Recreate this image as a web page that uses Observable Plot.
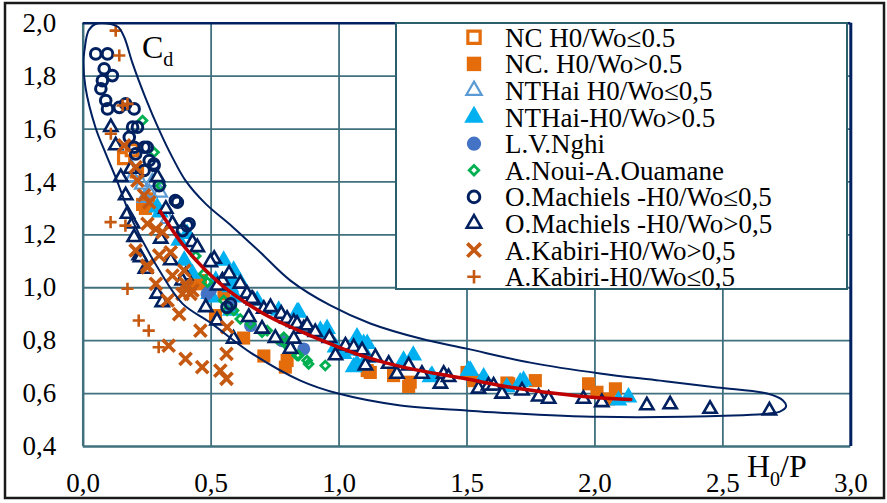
<!DOCTYPE html>
<html><head><meta charset="utf-8">
<script src="https://cdn.jsdelivr.net/npm/d3@7"></script>
<script src="https://cdn.jsdelivr.net/npm/@observablehq/plot@0.6"></script>
<style>
body{margin:0;background:#fff;}
#wrap{position:relative;width:887px;height:503px;overflow:hidden;background:#fff;}
#wrap svg{position:absolute;left:0;top:0;}
</style></head><body><div id="wrap"></div>
<script>
// ---- axis ticks ----
const xTicks = [0, 0.5, 1.0, 1.5, 2.0, 2.5, 3.0];
const yTicks = [0.4, 0.6, 0.8, 1.0, 1.2, 1.4, 1.6, 1.8, 2.0];

// ---- legend labels ----
const seriesNames = [
  "NC H0/Wo≤0.5", "NC. H0/Wo>0.5", "NTHai H0/Wo≤0,5", "NTHai-H0/Wo>0.5", "L.V.Nghi",
  "A.Noui-A.Ouamane", "O.Machiels -H0/Wo≤0,5", "O.Machiels -H0/Wo>0,5",
  "A.Kabiri-H0/Wo>0,5", "A.Kabiri-H0/Wo≤0,5"
];

// ---- series values [H0/P, Cd] ----
const ncOpen = [[0.16,1.49],[0.21,1.44],[0.19,1.52]];
const ncFilled = [[0.243,1.30],[0.232,1.315],[0.256,1.336],[0.427,1.027],[0.445,1.015],[0.458,1.027],[0.517,0.895],
  [0.55,0.977],[0.627,0.81],[0.706,0.742],[0.79,0.70],[0.797,0.725],[1.11,0.687],[1.122,0.68],[1.213,0.668],
  [1.272,0.627],[1.278,0.643],[1.5,0.68],[1.526,0.649],[1.656,0.64],[1.663,0.637],[1.767,0.649],[1.975,0.637],
  [2.008,0.605],[2.053,0.58],[2.08,0.618]];
const ntOpen = [[0.19,1.45],[0.193,1.418],[0.23,1.39],[0.24,1.34],[0.258,1.36],[0.27,1.40],[0.30,1.36],[0.33,1.26]];
const ntFilled = [[0.289,1.304],[0.30,1.285],[0.375,1.178],[0.406,1.204],[0.395,1.103],[0.427,1.053],[0.492,0.977],
  [0.504,0.964],[0.518,1.027],[0.549,1.103],[0.557,1.027],[0.577,0.914],[0.575,1.002],[0.588,1.065],[0.588,1.015],
  [0.595,0.964],[0.614,1.021],[0.68,0.952],[0.764,0.914],[0.836,0.907],[0.842,0.907],[0.927,0.838],[0.953,0.845],
  [0.953,0.826],[0.986,0.775],[1.018,0.75],[1.07,0.813],[1.07,0.763],[1.057,0.70],[1.07,0.712],[1.096,0.788],
  [1.11,0.737],[1.11,0.788],[1.252,0.725],[1.29,0.744],[1.357,0.662],[1.363,0.668],[1.506,0.687],[1.513,0.687],
  [1.565,0.662],[1.656,0.624],[1.708,0.643],[1.721,0.649],[2.092,0.574],[2.131,0.586]];
const lvNghi = [[0.484,0.977],[0.497,0.99],[0.576,0.933],[0.654,0.857],[0.777,0.80],[0.862,0.769]];
const aNoui = [[0.232,1.632],[0.277,1.512],[0.303,1.386],[0.44,1.12],[0.471,1.053],[0.486,1.021],[0.549,0.952],
  [0.5625,0.914],[0.588,0.914],[0.614,0.882],[0.654,0.863],[0.699,0.832],[0.719,0.838],[0.758,0.807],[0.784,0.813],
  [0.79,0.788],[0.803,0.781],[0.836,0.744],[0.842,0.744],[0.875,0.725],[0.881,0.712],[0.946,0.706]];
const machCirc = [[0.049,1.884],[0.095,1.884],[0.082,1.828],[0.114,1.802],[0.075,1.783],[0.069,1.752],[0.088,1.708],
  [0.095,1.676],[0.141,1.682],[0.166,1.695],[0.199,1.676],[0.193,1.607],[0.212,1.607],[0.18,1.569],[0.199,1.531],
  [0.238,1.531],[0.205,1.506],[0.258,1.481],[0.277,1.462],[0.238,1.443],[0.25,1.531],[0.276,1.468],[0.297,1.386],
  [0.36,1.33],[0.368,1.323],[0.414,1.242],[0.388,1.216],[0.406,1.235],[0.562,0.926],[0.576,0.939]];
const machTri = [[0.108,1.607],[0.127,1.538],[0.186,1.449],[0.147,1.418],[0.166,1.349],[0.173,1.279],[0.193,1.242],
  [0.199,1.191],[0.219,1.122],[0.224,1.115],[0.243,1.071],[0.289,0.977],[0.309,0.945],[0.303,1.185],[0.323,1.298],
  [0.349,1.242],[0.342,1.103],[0.29,1.418],[0.40,1.046],[0.387,1.027],[0.427,1.172],[0.446,1.153],[0.512,1.109],
  [0.479,0.926],[0.523,0.876],[0.544,1.027],[0.57,1.053],[0.525,1.008],[0.497,1.096],[0.588,0.807],[0.614,1.015],
  [0.64,0.977],[0.666,0.952],[0.647,0.889],[0.66,0.958],[0.699,0.845],[0.706,0.92],[0.732,0.926],[0.751,0.81],
  [0.774,0.901],[0.797,0.882],[0.81,0.769],[0.823,0.807],[0.823,0.87],[0.836,0.863],[0.862,0.845],[0.875,0.857],
  [0.907,0.832],[0.962,0.81],[0.986,0.744],[1.025,0.781],[1.057,0.775],[1.09,0.763],[1.103,0.706],[1.142,0.737],
  [1.194,0.712],[1.226,0.674],[1.272,0.706],[1.324,0.674],[1.396,0.637],[1.409,0.674],[1.428,0.662],[1.545,0.618],
  [1.584,0.63],[1.604,0.63],[1.637,0.599],[1.715,0.611],[1.78,0.588],[1.819,0.58],[1.955,0.58],[2.027,0.567],
  [2.203,0.555],[2.294,0.559],[2.45,0.542],[2.682,0.536]];
const kabX = [[0.16,1.538],[0.205,1.456],[0.212,1.405],[0.238,1.349],[0.258,1.323],[0.251,1.242],[0.284,1.222],
  [0.31,1.21],[0.205,1.141],[0.251,1.077],[0.297,1.122],[0.342,1.134],[0.349,1.046],[0.395,1.065],[0.284,1.015],
  [0.40,1.015],[0.388,0.977],[0.427,0.99],[0.33,0.952],[0.375,0.90],[0.458,0.838],[0.334,0.781],[0.40,0.731],
  [0.465,0.70],[0.536,0.687],[0.56,0.656],[0.56,0.75],[0.5625,0.851],[0.25,1.084],[0.406,1.002],[0.419,0.977]];
const kabPlus = [[0.127,1.972],[0.141,1.878],[0.154,1.689],[0.173,1.695],[0.108,1.582],[0.107,1.248],[0.165,1.235],
  [0.173,0.996],[0.217,0.876],[0.256,0.838],[0.295,0.775]];

// ---- fitted curve and envelope ----
const fitCurve = [[0.30,1.29],[0.40,1.15],[0.536,1.015],[0.70,0.905],[0.85,0.835],[1.0,0.775],[1.1,0.74],
  [1.25,0.70],[1.5,0.655],[1.67,0.624],[1.85,0.60],[2.0,0.585],[2.14,0.578]];
const envelope = [[0.005,1.897],[0.021,1.972],[0.048,1.997],[0.107,1.997],[0.138,1.985],[0.161,1.946],
  [0.193,1.848],[0.243,1.719],[0.298,1.594],[0.349,1.492],[0.40,1.405],[0.478,1.318],[0.583,1.231],
  [0.693,1.133],[0.81,1.027],[0.966,0.933],[1.122,0.865],[1.318,0.808],[1.498,0.770],[1.748,0.717],
  [2.02,0.676],[2.255,0.649],[2.478,0.623],[2.673,0.600],[2.735,0.574],[2.747,0.551],[2.723,0.532],
  [2.673,0.524],[2.54,0.517],[2.02,0.512],[1.63,0.528],[1.498,0.536],[1.24,0.555],[0.997,0.60],
  [0.849,0.649],[0.654,0.755],[0.497,0.868],[0.388,0.94],[0.298,1.065],[0.193,1.253],[0.127,1.417],
  [0.088,1.507],[0.048,1.606],[0.009,1.757],[0.001,1.859]];

// ---- styles ----
const navy = "#002060", grid = "#40707e", orange = "#E46C0A", kab = "#C65911";
const styles = [
  {symbol:"square", r:6.3, fill:"white", stroke:orange, strokeWidth:3.2},
  {symbol:"square", r:7.4, fill:orange, stroke:"none", strokeWidth:0},
  {symbol:"triangle", r:5.2, fill:"none", stroke:"#5B9BD5", strokeWidth:2.2},
  {symbol:"triangle", r:6.6, fill:"#00B0F0", stroke:"none", strokeWidth:0},
  {symbol:"circle", r:6.5, fill:"#4472C4", stroke:"none", strokeWidth:0},
  {symbol:"diamond2", r:3.9, fill:"none", stroke:"#00B050", strokeWidth:2.8},
  {symbol:"circle", r:5.3, fill:"none", stroke:navy, strokeWidth:3},
  {symbol:"triangle", r:4.9, fill:"white", stroke:navy, strokeWidth:2.6},
  {symbol:"times", r:5.6, fill:"none", stroke:kab, strokeWidth:3.6},
  {symbol:"plus", r:4, fill:"none", stroke:kab, strokeWidth:2.6}
];
const seriesData = [ncOpen, ncFilled, ntOpen, ntFilled, lvNghi, aNoui, machCirc, machTri, kabX, kabPlus];

const fmt = d => d3.format(".1f")(d).replace(".", ",");
const toObj = a => a.map(([x, y]) => ({x, y}));

const dotMarks = seriesData.map((arr, i) => Plot.dot(toObj(arr), {x:"x", y:"y", ...styles[i]}));

const plot = Plot.plot({
  width: 887, height: 503,
  marginLeft: 82.7, marginRight: 36.7, marginTop: 22.7, marginBottom: 57,
  style: {fontFamily: "'Liberation Serif','Times New Roman',serif", fontSize: "27px", color: "#000", background: "transparent"},
  x: {domain: [0, 3], ticks: xTicks, tickFormat: fmt, tickSize: 0, tickPadding: 26, label: null},
  y: {domain: [0.4, 2.0], ticks: yTicks, tickFormat: fmt, tickSize: 0, tickPadding: 27, label: null},
  marks: [
    Plot.ruleX(xTicks.slice(1, -1), {stroke: grid, strokeWidth: 1.8}),
    Plot.ruleY(yTicks.slice(1, -1), {stroke: grid, strokeWidth: 1.8}),
    Plot.ruleX([xTicks[0]], {stroke: grid, strokeWidth: 2.5}),
    Plot.ruleY([yTicks[0]], {stroke: grid, strokeWidth: 2.5}),
    ...dotMarks,
    Plot.line(toObj(envelope), {x: "x", y: "y", curve: "catmull-rom-closed", stroke: navy, strokeWidth: 2, clip: true}),
    Plot.line(toObj(fitCurve), {x: "x", y: "y", curve: "catmull-rom", stroke: "#C00000", strokeWidth: 3.5}),
    Plot.ruleY([yTicks[yTicks.length - 1]], {stroke: navy, strokeWidth: 2.5}),
    Plot.ruleX([xTicks[xTicks.length - 1]], {stroke: navy, strokeWidth: 3})
  ]
});
const wrap = document.getElementById("wrap");
wrap.appendChild(plot);

// ---- overlay: border, axis titles, legend ----
const ov = d3.select(wrap).append("svg").attr("width", 887).attr("height", 503)
  .style("font-family", "'Liberation Serif','Times New Roman',serif");
ov.append("rect").attr("x", 5).attr("y", 3).attr("width", 879).attr("height", 495)
  .attr("fill", "none").attr("stroke", "#1a1a1a").attr("stroke-width", 2.5);

const cd = ov.append("text").attr("x", 142).attr("y", 58).attr("font-size", 32);
cd.append("tspan").text("C");
cd.append("tspan").attr("font-size", 20).attr("dy", 8).text("d");

const hp = ov.append("text").attr("x", 747).attr("y", 477).attr("font-size", 32);
hp.append("tspan").text("H");
hp.append("tspan").attr("font-size", 20).attr("dy", 9).text("0");
hp.append("tspan").attr("dy", -9).text("/P");

const lg = ov.append("g");
lg.append("rect").attr("x", 396).attr("y", 23).attr("width", 451).attr("height", 266)
  .attr("fill", "white").attr("stroke", "#2c5f6e").attr("stroke-width", 2);
const symMap = {square: d3.symbolSquare, triangle: d3.symbolTriangle, circle: d3.symbolCircle,
  diamond2: d3.symbolDiamond2, times: d3.symbolTimes, plus: d3.symbolPlus};
seriesNames.forEach((name, i) => {
  const s = styles[i];
  const cy = 37.3 + i * 26.6;
  const rr = s.r * 1.1;
  lg.append("path")
    .attr("d", d3.symbol(symMap[s.symbol], rr * rr * Math.PI)())
    .attr("transform", `translate(474,${cy})`)
    .attr("fill", s.fill).attr("stroke", s.stroke).attr("stroke-width", s.strokeWidth);
  lg.append("text").attr("x", 505).attr("y", 46.7 + i * 26.6).attr("font-size", 27).text(name);
});
</script></body></html>
